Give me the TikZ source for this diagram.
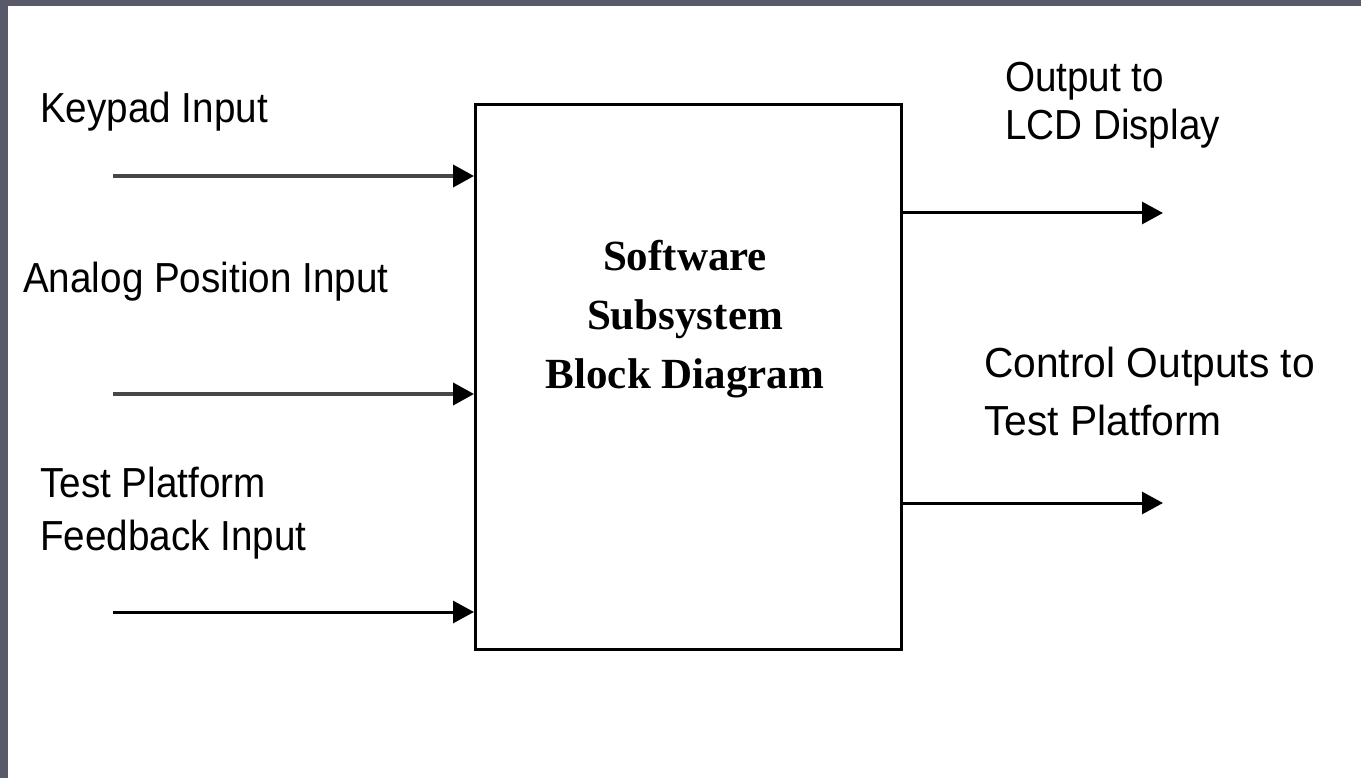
\documentclass[tikz,border=0pt]{standalone}
\usepackage{fontspec}
\setmainfont{Liberation Serif}
\newfontfamily\lblfont[FakeStretch=0.92]{Liberation Sans}
\newfontfamily\lblwidefont[FakeStretch=0.97]{Liberation Sans}
\usetikzlibrary{arrows.meta}
\definecolor{frame}{RGB}{88,90,106}
\tikzset{
  lbl/.style={anchor=base west, inner sep=0pt, font=\lblfont\fontsize{42}{50}\selectfont},
  lblwide/.style={lbl, font=\lblwidefont\fontsize{42}{50}\selectfont},
  ttl/.style={anchor=base, inner sep=0pt, font=\bfseries\fontsize{43}{58}\selectfont},
  blockbox/.style={draw=black, line width=3pt, minimum width=426pt, minimum height=545pt, inner sep=0pt},
  arr/.style={line width=3pt, -{Triangle[length=21pt,width=22pt,color=black]}},
  grayarr/.style={arr, line width=4pt, draw=black!72}
}
\begin{document}
\begin{tikzpicture}[x=1pt,y=-1pt]
\useasboundingbox (0,0) rectangle (1361,778);
\fill[white] (0,0) rectangle (1361,778);
\fill[frame] (0,0) rectangle (1361,6);
\fill[frame] (0,0) rectangle (8,778);

\node[blockbox] (box) at (688.5,377) {};

\node[ttl] (t1) at (685,271) {Software};
\node[ttl] (t2) at (685,329) {Subsystem};
\node[ttl] (t3) at (685,388) {Block Diagram};

\node[lbl] (key) at (40,123) {Keypad Input};
\node[lbl] (ana) at (23,293) {Analog Position Input};
\node[lbl] (fb1) at (40,497) {Test Platform};
\node[lbl] (fb2) at (40,550) {Feedback Input};
\node[lbl] (lcd1) at (1005,92) {Output to};
\node[lbl] (lcd2) at (1005,140) {LCD Display};
\node[lblwide] (ctl1) at (984,377) {Control Outputs to};
\node[lblwide] (ctl2) at (984,435) {Test Platform};

\coordinate (kin) at (113,176);
\coordinate (ain) at (113,394);
\coordinate (fin) at (113,612);
\coordinate (lout) at (1163,213);
\coordinate (cout) at (1163,503);

\draw[grayarr] (kin) -- (kin -| box.west);
\draw[grayarr] (ain) -- (ain -| box.west);
\draw[arr] (fin) -- (fin -| box.west);
\draw[arr] (lout -| box.east) -- (lout);
\draw[arr] (cout -| box.east) -- (cout);
\end{tikzpicture}
\end{document}
